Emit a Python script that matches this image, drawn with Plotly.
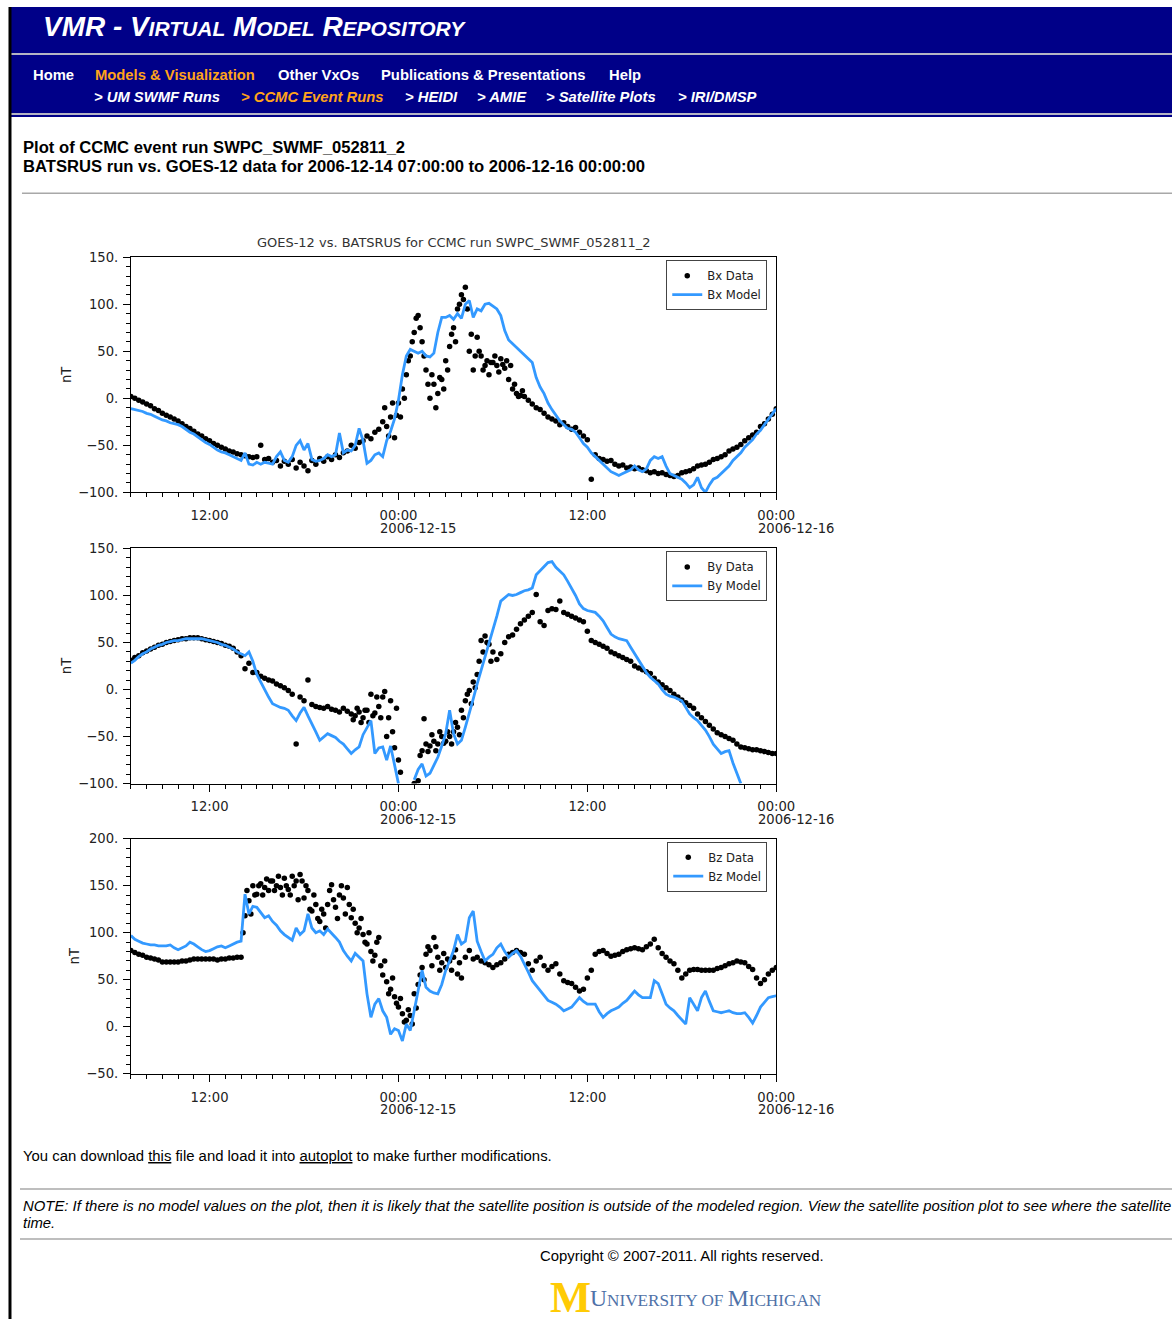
import pandas as pd
import plotly.graph_objects as go

# 15-minute sample times, 2006-12-14 07:00 .. 2006-12-16 00:00
times = pd.date_range("2006-12-14 07:00", "2006-12-16 00:00", freq="15min")

# GOES-12 observations (nT), one row per hour (:00, :15, :30, :45)
bx_data = [
    2, 0, -2, -4, -6, -8, -11, -13, -16, -18, -20, -22, -24, -27, -30, -32,
    -35, -38, -40, -43, -45, -48, -50, -52, -54, -56, -57, -59, -60, -61, -62, -63,
    -62, -50, -65, -64, -68, -66, -72, -67, -70, -65, -74, -68, -72, -77, -66, -70,
    -64, -67, -62, -65, -60, -63, -58, -56, -50, -53, -47, -45, -40, -43, -36, -33,
    -25, -30, -20, -42, -5, 10, 25, 45, 70, 88, 60, 30, 0, 15, 5, 20,
    40, 55, 75, 95, 110, 118, 50, 30, 65, 45, 35, 25, 38, 35, 42, 32,
    20, 10, 5, 3, 2, -2, -6, -10, -12, -16, -20, -22, -24, -28, -26, -30,
    -33, -31, -36, -40, -44, -86, -60, -64, -65, -67, -66, -70, -72, -71, -74, -73,
    -75, -74, -76, -77, -79, -78, -80, -79, -81, -82, -83, -82, -79, -78, -77, -75,
    -72, -71, -70, -68, -65, -64, -62, -60, -56, -54, -52, -49, -45, -42, -39, -36,
    -30, -27, -22, -17, -11,
]
by_data = [
    31, 34, 36, 39, 41, 43, 45, 47, 48, 50, 51, 52, 53, 54, 54, 55,
    55, 55, 54, 53, 52, 51, 50, 49, 47, 46, 44, 40, 36, 22, 28, 18,
    18, 14, 12, 10, 9, 6, 4, 2, -1, -5, -58, -8, -12, 10, -16, -18,
    -19, -20, -18, -21, -22, -24, -20, -23, -26, -28, -24, -30, -22, -5, -25, -18,
    -8, -50, -12, -62, -75, None, None, None, -100, -97, -65, -58, -60, -55, -58, -50,
    -55, -50, -45, -40, -22, -12, -1, 8, 16, 52, 57, 48, 40, 32, 38, 50,
    56, 58, 64, 70, 74, 78, 82, 101, 72, 68, 84, 86, 85, 94, 82, 80,
    78, 76, 74, 72, 62, 52, 50, 48, 46, 44, 40, 38, 36, 34, 32, 30,
    25, 23, 21, 19, 17, 12, 8, 5, 2, -1, -5, -8, -11, -14, -17, -20,
    -26, -30, -34, -38, -42, -46, -48, -50, -52, -54, -58, -61, -62, -63, -64, -64,
    -65, -66, -67, -68, -68,
]
bz_data = [
    81, 79, 77, 76, 74, 73, 72, 71, 69, 69, 69, 69, 69, 70, 70, 71,
    72, 72, 72, 72, 72, 72, 71, 72, 72, 73, 73, 74, 74, 118, 134, 150,
    141, 152, 148, 145, 155, 150, 148, 158, 146, 160, 155, 162, 137, 145, 123, 130,
    112, 120, 130, 151, 127, 140, 137, 148, 116, 110, 105, 98, 88, 80, 76, 95,
    55, 48, 40, 32, 21, 14, 7, 12, 35, 45, 63, 77, 81, 95, 74, 68,
    63, 70, 74, 56, 52, 74, 81, 72, 74, 70, 68, 66, 63, 66, 68, 72,
    77, 79, 81, 79, 77, 67, 60, 70, 74, 65, 60, 64, 67, 56, 49, 47,
    46, 42, 38, 40, 52, 60, 77, 80, 81, 78, 75, 76, 77, 80, 82, 83,
    84, 83, 82, 85, 88, 93, 84, 78, 74, 70, 67, 60, 52, 56, 60, 61,
    61, 60, 60, 60, 60, 62, 63, 65, 67, 68, 70, 69, 68, 64, 61, 52,
    46, 50, 56, 60, 63,
]

# extra readings inside the disturbed intervals, offset 7.5 min from the grid
bx_burst_start = "2006-12-14 23:07:30"
bx_burst = [
    -10, -40, -5, -18, -20, 0, 40, 60, 85, 75, 45, 15, 25, -10, 22, 10,
    30, 68, 60, 100, 105, 95, 68, 45, 50, 30, 40, 38, 45, 28, 36, 40,
    35, 15, 2, 8,
]
by_burst_start = "2006-12-14 21:07:30"
by_burst = [
    -32, -20, -35, -22, -35, -28, -8, -30, -2, -30, -45, -20, -88, None, None, None,
    None, -70, -31, -66, -48, -65, -45, -57, -45, -58, -35, -48, -30, -5, -15, 2,
    30, 40, 50, 30,
]
bz_burst_start = "2006-12-14 14:07:30"
bz_burst = [
    100, 145, 120, 140, 150, 140, 157, 155, 145, 160, 140, 150, 140, 150, 135, 155,
    150, 125, 140, 115, 125, 105, 145, 135, 115, 150, 120, 130, 125, 100, 115, 90,
    100, 70, 90, 65, 70, 35, 52, 25, 30, 5, 18, 3, 20, 55, 50, 85,
    65, 85, 60, 78, 72, 60, 82, 68,
]

# BATSRUS model values along the satellite track (nT)
bx_model = [
    -11, -12, -13, -14, -16, -17, -19, -21, -23, -24, -26, -27, -28, -30, -33, -36,
    -38, -41, -44, -47, -49, -52, -55, -57, -58, -60, -62, -64, -66, -58, -70, -71,
    -68, -70, -68, -69, -70, -62, -57, -66, -68, -62, -50, -45, -55, -48, -65, -67,
    -66, -64, -60, -62, -60, -37, -58, -55, -56, -50, -32, -45, -69, -66, -60, -58,
    -62, -45, -35, -22, -2, 25, 45, 52, 50, 48, 50, 45, 44, 48, 70, 86,
    86, 88, 84, 90, 85, 100, 104, 86, 95, 93, 100, 101, 98, 95, 88, 72,
    62, 58, 55, 51, 46, 42, 38, 22, 12, 5, -5, -12, -18, -24, -28, -32,
    -33, -36, -42, -48, -52, -58, -62, -66, -70, -74, -78, -80, -82, -80, -78, -76,
    -72, -76, -78, -75, -66, -62, -64, -62, -72, -80, -82, -84, -86, -90, -95, -92,
    -84, -95, -100, -92, -86, -84, -80, -76, -72, -66, -62, -58, -52, -48, -44, -38,
    -34, -28, -22, -16, -11,
]
by_model = [
    28, 31, 35, 38, 40, 43, 45, 47, 48, 50, 51, 52, 52, 53, 54, 54,
    54, 54, 54, 53, 52, 51, 50, 48, 47, 45, 43, 40, 38, 36, 40, 30,
    16, 8, -1, -8, -15, -17, -19, -20, -22, -28, -33, -25, -19, -28, -36, -45,
    -54, -50, -47, -49, -51, -55, -58, -63, -68, -64, -61, -48, -40, -33, -68, -62,
    -61, -75, -60, -82, -100, None, None, None, -96, -85, -79, -92, -89, -80, -72, -60,
    -47, -22, -47, -58, -54, -40, -26, -10, 6, 20, 34, 48, 62, 78, 94, 98,
    101, 100, 101, 103, 105, 106, 108, 122, 126, 130, 135, 136, 130, 126, 122, 115,
    108, 100, 91, 86, 84, 83, 82, 78, 73, 66, 59, 56, 54, 53, 52, 45,
    38, 31, 24, 18, 13, 9, 6, 0, -5, -7, -8, -10, -12, -19, -26, -30,
    -33, -38, -43, -50, -58, -63, -68, -66, -65, -78, -89, -100, None, None, None, None,
    None, None, None, None, None,
]
bz_model = [
    97, 93, 91, 89, 88, 87, 87, 86, 86, 86, 87, 84, 82, 84, 86, 90,
    88, 85, 82, 80, 81, 83, 85, 86, 84, 86, 88, 90, 91, 141, 120, 128,
    127, 122, 116, 118, 112, 108, 102, 98, 95, 92, 105, 98, 102, 120, 105, 100,
    102, 98, 104, 100, 95, 90, 81, 75, 70, 78, 74, 70, 35, 10, 24, 30,
    17, 10, -8, -2, -4, -15, 3, -4, 17, 40, 60, 42, 38, 36, 35, 45,
    60, 70, 81, 98, 88, 91, 116, 123, 91, 80, 70, 74, 77, 84, 88, 80,
    74, 78, 81, 75, 67, 58, 49, 44, 38, 33, 28, 26, 24, 21, 17, 19,
    21, 26, 31, 27, 24, 24, 24, 16, 10, 14, 17, 19, 21, 25, 28, 33,
    38, 34, 31, 31, 31, 49, 46, 35, 24, 20, 17, 12, 7, 3, 31, 24,
    17, 31, 38, 27, 17, 16, 15, 16, 17, 15, 14, 14, 15, 10, 4, 12,
    21, 26, 31, 32, 33,
]

components = ["Bx", "By", "Bz"]
y_ranges = [[-100, 150], [-100, 150], [-50, 200]]
date_labels = ["2006-12-15", "2006-12-16"]

CHART_FONT = "DejaVu Sans"
PAGE_FONT = "Liberation Sans"
NAVY = "#000088"
ORANGE = "#FFA31A"
MODEL_BLUE = "#3399FF"

# figure canvas; page layout below is written in 1173x1319 page pixels
FIG_W, FIG_H = 1191, 1336
KX = 1 / 0.985     # canvas pixels per page pixel, horizontal
KY = 1 / 0.988     # canvas pixels per page pixel, vertical
TOP = 7.0          # page-pixel offset of the canvas top


def px(x):
    return x * KX / FIG_W


def py(y):
    return 1 - (y - TOP) * KY / FIG_H


def fs(size):
    return round(size * 1.013, 2)


fig = go.Figure()

# page-pixel extents of the three stacked panels
panel_left, panel_right = 131, 777
panel_tops = [257, 548, 838]
panel_bottoms = [492, 783, 1073]
legend_tops = [260, 551, 841]

datasets = [
    (bx_data, bx_burst_start, bx_burst, bx_model),
    (by_data, by_burst_start, by_burst, by_model),
    (bz_data, bz_burst_start, bz_burst, bz_model),
]

annotations = []
for i, comp in enumerate(components):
    n = "" if i == 0 else str(i + 1)
    data, burst_start, burst, model = datasets[i]
    burst_times = pd.date_range(burst_start, periods=len(burst), freq="15min")
    fig.add_trace(go.Scatter(
        x=list(times) + list(burst_times), y=data + burst, mode="markers",
        name=f"{comp} Data",
        marker=dict(color="black", size=5.5, line=dict(width=0)),
        xaxis=f"x{n}", yaxis=f"y{n}", legend=f"legend{n}",
    ))
    fig.add_trace(go.Scatter(
        x=times, y=model, mode="lines", name=f"{comp} Model",
        line=dict(color=MODEL_BLUE, width=2.8), connectgaps=False,
        xaxis=f"x{n}", yaxis=f"y{n}", legend=f"legend{n}",
    ))

    fig.layout[f"xaxis{n}"] = dict(
        domain=[px(panel_left), px(panel_right)], anchor=f"y{n}", type="date",
        range=["2006-12-14 07:00:00", "2006-12-16 00:00:00"],
        tickmode="linear", tick0="2006-12-14 00:00:00", dtick=12 * 3600 * 1000,
        tickformat="%H:%M", ticks="outside", ticklen=7, tickwidth=1, tickcolor="black",
        minor=dict(dtick=3600 * 1000, tick0="2006-12-14 00:00:00", ticks="outside",
                   ticklen=4, tickwidth=1, tickcolor="black", showgrid=False),
        showline=True, linecolor="black", linewidth=1, mirror=True,
        showgrid=False, zeroline=False, ticklabelstandoff=4,
        tickfont=dict(family=CHART_FONT, size=fs(13), color="#222"),
    )
    fig.layout[f"yaxis{n}"] = dict(
        domain=[py(panel_bottoms[i]), py(panel_tops[i])], anchor=f"x{n}",
        range=y_ranges[i], tickmode="linear", tick0=0, dtick=50, ticksuffix=".",
        ticks="outside", ticklen=7, tickwidth=1, tickcolor="black",
        minor=dict(dtick=10, ticks="outside", ticklen=4, tickwidth=1,
                   tickcolor="black", showgrid=False),
        showline=True, linecolor="black", linewidth=1, mirror=True,
        showgrid=False, zeroline=False, ticklabelstandoff=2,
        tickfont=dict(family=CHART_FONT, size=fs(13), color="#222"),
        title=dict(text="nT", standoff=3,
                   font=dict(family=CHART_FONT, size=fs(13), color="#222")),
    )
    fig.layout[f"legend{n}"] = dict(
        x=px(768), y=py(legend_tops[i]), xanchor="right", yanchor="top",
        bgcolor="white", bordercolor="#444", borderwidth=1,
        font=dict(family=CHART_FONT, size=fs(11.5), color="#222"),
        tracegroupgap=0, itemwidth=30,
    )
    # date line under each midnight tick label
    for d in date_labels:
        annotations.append(dict(
            xref=f"x{n}", yref="paper", x=f"{d} 00:00:00", y=py(panel_bottoms[i] + 36),
            xanchor="left", yanchor="middle", xshift=-20, showarrow=False,
            text=d, font=dict(family=CHART_FONT, size=fs(13), color="#222"),
        ))


def page_text(x, y, s, size=14, color="black", family=PAGE_FONT, anchor="left"):
    annotations.append(dict(
        xref="paper", yref="paper", x=px(x), y=py(y), text=s, showarrow=False,
        xanchor=anchor, yanchor="middle",
        font=dict(family=family, size=fs(size), color=color),
    ))


# chart title
page_text(454, 242, "GOES-12 vs. BATSRUS for CCMC run SWPC_SWMF_052811_2",
          size=12.8, color="#333", family=CHART_FONT, anchor="center")

# site banner
sc = '<span style="font-size:%.1fpx">{}</span>' % fs(20.7)
banner_title = ("<b><i>VMR - V" + sc.format("IRTUAL") + " M" + sc.format("ODEL")
                + " R" + sc.format("EPOSITORY") + "</i></b>")
page_text(41, 26, banner_title, size=27.6, color="white")

nav_top = [("Home", 31, "white"), ("Models &amp; Visualization", 93, ORANGE),
           ("Other VxOs", 276, "white"), ("Publications &amp; Presentations", 379, "white"),
           ("Help", 608, "white")]
for label, x, col in nav_top:
    page_text(x, 75, f"<b>{label}</b>", size=14.6, color=col)

nav_sub = [("&gt; UM SWMF Runs", 92, "white"), ("&gt; CCMC Event Runs", 239, ORANGE),
           ("&gt; HEIDI", 403, "white"), ("&gt; AMIE", 475, "white"),
           ("&gt; Satellite Plots", 545, "white"), ("&gt; IRI/DMSP", 677, "white")]
for label, x, col in nav_sub:
    page_text(x, 97, f"<b><i>{label}</i></b>", size=14.6, color=col)

# page heading
page_text(21, 147, "<b>Plot of CCMC event run SWPC_SWMF_052811_2</b>", size=16.4)
page_text(21, 166, "<b>BATSRUS run vs. GOES-12 data for 2006-12-14 07:00:00 to "
                   "2006-12-16 00:00:00</b>", size=16.4)

# footer
ul = '<span style="text-decoration:underline">{}</span>'
page_text(21, 1155, "You can download " + ul.format("this") + " file and load it into "
          + ul.format("autoplot") + " to make further modifications.", size=14.7)
page_text(21, 1205, "<i>NOTE: If there is no model values on the plot, then it is likely "
                    "that the satellite position is outside of the modeled region. View the "
                    "satellite position plot to see where the satellite</i>", size=14.7)
page_text(21, 1222, "<i>time.</i>", size=14.7)
page_text(683, 1255, "Copyright © 2007-2011. All rights reserved.", size=14.7, anchor="center")

page_text(571, 1296, "<b>M</b>", size=43, color="#FFCB05", family="Liberation Serif",
          anchor="center")
scs = '<span style="font-size:%.1fpx">{}</span>' % fs(17)
page_text(589, 1297, "U" + scs.format("NIVERSITY OF ") + "M" + scs.format("ICHIGAN"),
          size=23.3, color="#4F72A8", family="Liberation Serif")

shapes = [
    # banner background and its rules
    dict(type="rect", xref="paper", yref="paper", x0=px(11), x1=1, y0=py(117), y1=1,
         fillcolor=NAVY, line=dict(width=0), layer="below"),
    dict(type="line", xref="paper", yref="paper", x0=px(11), x1=1, y0=py(54), y1=py(54),
         line=dict(color="#B4B4C4", width=2)),
    dict(type="line", xref="paper", yref="paper", x0=px(11), x1=1, y0=py(114), y1=py(114),
         line=dict(color="#B4B4C4", width=2)),
    # left page edge
    dict(type="line", xref="paper", yref="paper", x0=px(10), x1=px(10), y0=0, y1=1,
         line=dict(color="black", width=3)),
    # horizontal rules in the page body
    dict(type="line", xref="paper", yref="paper", x0=px(22), x1=1, y0=py(193), y1=py(193),
         line=dict(color="#A8A8A8", width=1.5)),
    dict(type="line", xref="paper", yref="paper", x0=px(20), x1=1, y0=py(1188), y1=py(1188),
         line=dict(color="#A8A8A8", width=1.5)),
    dict(type="line", xref="paper", yref="paper", x0=px(20), x1=1, y0=py(1238), y1=py(1238),
         line=dict(color="#A8A8A8", width=1.5)),
]

fig.update_layout(
    width=FIG_W, height=FIG_H, margin=dict(l=0, r=0, t=0, b=0, pad=0),
    paper_bgcolor="white", plot_bgcolor="white",
    annotations=annotations, shapes=shapes, showlegend=True,
    font=dict(family=CHART_FONT, color="#222"),
)

fig.write_html("out.html", config={"displayModeBar": False})
